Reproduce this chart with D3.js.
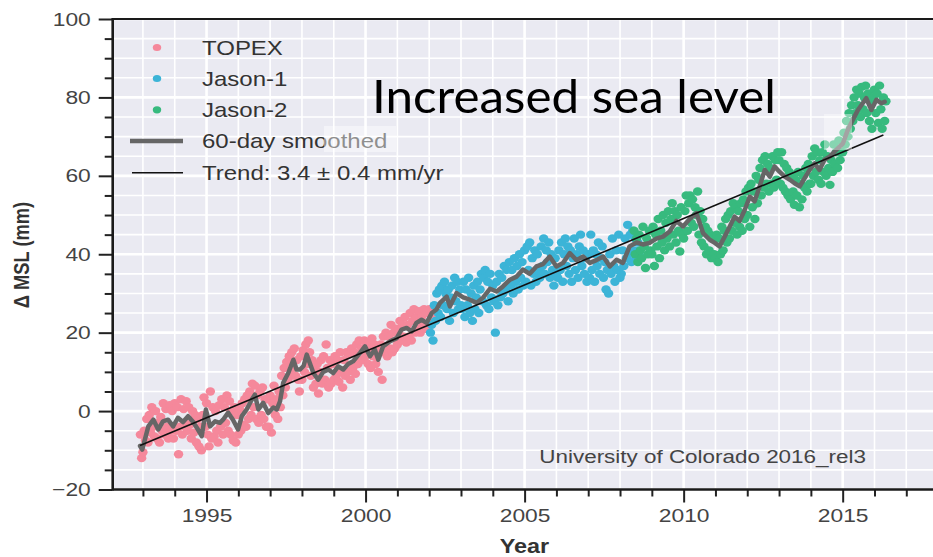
<!DOCTYPE html>
<html><head><meta charset="utf-8">
<script src="https://cdn.jsdelivr.net/npm/d3@7"></script>
<style>body{margin:0;background:#fff;} svg{display:block;}</style>
</head><body>
<svg id="chart" width="933" height="557"></svg>
<script>
// ---------- data ----------
const sampleStep = 0.04;
const topexStart = 1992.92, jason1Start = 2002.04, jason2Start = 2008.44;
const topexValues = [
 -6,-12,-10.5,-5,-7.5,-2,-8,-1,-5.5,1,-4,-6.5,0,-7,-3,-8,-1.5,-5,2,-6,0.5,-4,-7,1.5,-5,
 0,-7,2,-5,1,-11,-4,3,-6,0.5,-3,2.5,-5,1,-3.5,-7,0,-5.5,-1,-8,-2,-9,-4,-10,-1,
 3.5,-4,2,-6,-9,5,-7,1,-6.5,0,-5,-8,1.5,-4,3,-6,1,-3,4,-5,2.5,-6,0,-7.5,1,
 -8,-1,-6,0.5,-5,2,-3.5,3,-4,4,-2,5,-1,7,1,6.5,-2,4,-3,5,-1,6,-2,3,-4,
 3,-4,4,-5.5,2,6.5,-1,3,-2,5,1,9,4,11,6,12.5,8,14,9,15,11,16,9,13,8,
 5,14,8,15.5,10,17,12,18,15,9,13,6,11,7,12,4.5,10,13,7,14,8,17,11,6,13,
 7,12,8,14,9,13,7.5,15,10,6,13,9,15,10,14.5,8,16,11,15,9.5,17,12,18,13,16,
 13,18,14,17,12,16,11,18.5,14,17,12,16,10,15,17,8,19,15,20,14,19,16,22,15,20,
 16,21,17,20,23,18,22,19,24,17.5,22,19,25,18,23,26,20,24,21,25.5,20,24,22,26,21,
 25,21,26,23,24.5
];
const jason1Values = [
 20,22,18,27,23,30,25,31,24,32,27,33,30,26,31,23,29,32,25,34,28,33,26,31,27,
 26,33,24,31,27,34,25,30,23,32,26,29,33,25,31,35,28,34,36,27,33,26,35,29,32,
 28,20,33,27,35,29,34,30,37,31,36,28,38,32,36,30,39,33,37,31,40,34,38,32,41,
 33,42,36,43,32,39,35,41,33,40,36,34,42,37,44,35,41,38,43,34,40,36,32,39,35,
 34,41,36,43,33,40,44,37,42,35,41,33,39,44,36,40,34,42,45,37,41,35,39,33,40,
 34,45,36,41,33,40,37,43,35,39,42,34,38,31,36,30,40,35,44,37,33,41,36,45,34,
 35,41,37,44,39,47.5,40,45,38,46,41,44,39,43,40
];
const jason2Values = [
 46,40,44,38,45,41,39,47,42,36.5,44,40,46,41,
 40,47,37,45,42,49,39,46,43,50,41,48,44,51,42,49,53,45,51,43,50,46,40.7,52,45,
 44,51,55,46,53,55,48,54,47,52,50,56,45,51,43,49,42,47,40,46,41,45,39,44,40,
 39,45,38,44,40,47,41,46,49,43,50,44,51,46,53,48,52,45,51,47,53,46,54,49,56,
 50,57,47,58,52,56,49,60,53,59,62,55,64,57,65,58,63,56,62,58,65,57,64,59,66,
 64,58,66,57,63,56,62,55,61,54,60,56,52.6,59,55,61,52,58,54,60,57,62,56,63,58,
 58,65,60,67,61,66,59,64,58,66,61,68,60,65,62,57.7,64,61,68,63,66,62,69,64,66,
 66,71,68,74,70,76,72,78,74,80,76,82,78,81,75,82.7,77,80,83,76,81,74,79,72,80,
 82,76,81,73.5,83,77,72,80,74,79
];
const smoothYears = [1992.91,1992.98,1993.17,1993.33,1993.48,1993.63,1993.79,1993.95,1994.10,1994.26,1994.42,1994.58,1994.73,1994.85,1994.98,1995.11,1995.27,1995.42,1995.52,1995.68,1995.83,1995.99,1996.11,1996.26,1996.42,1996.52,1996.63,1996.78,1996.94,1997.10,1997.21,1997.31,1997.41,1997.57,1997.73,1997.83,1997.94,1998.05,1998.15,1998.36,1998.51,1998.67,1998.83,1998.98,1999.14,1999.30,1999.45,1999.61,1999.82,1999.98,2000.14,2000.29,2000.40,2000.55,2000.77,2000.98,2001.13,2001.29,2001.45,2001.60,2001.76,2001.92,2002.08,2002.23,2002.34,2002.55,2002.65,2002.86,2003.07,2003.28,2003.49,2003.70,2003.91,2004.12,2004.32,2004.54,2004.75,2004.95,2005.16,2005.37,2005.58,2005.79,2006.00,2006.21,2006.42,2006.63,2006.84,2007.05,2007.26,2007.47,2007.68,2007.89,2008.09,2008.30,2008.52,2008.72,2008.93,2009.14,2009.35,2009.56,2009.77,2009.98,2010.19,2010.40,2010.61,2010.82,2010.98,2011.13,2011.29,2011.45,2011.60,2011.76,2011.92,2012.08,2012.23,2012.39,2012.55,2012.71,2012.86,2013.02,2013.18,2013.34,2013.49,2013.65,2013.81,2013.96,2014.12,2014.27,2014.43,2014.59,2014.80,2015.01,2015.16,2015.32,2015.48,2015.63,2015.74,2015.90,2016.06,2016.21,2016.32];
const smoothValues = [-8.9,-9.8,-3.9,-2.2,-4.7,-2.6,-2.2,-3.9,-1.7,-2.8,-1.3,-2.8,-4.7,-6.4,0.4,-3.9,-2.6,-3.0,-2.2,-0.4,-2.2,-4.7,-1.3,0.4,2.9,4.2,0.4,2.1,-0.5,0.9,0.4,2.5,7.2,9.7,13.1,10.6,10.6,11.5,14.4,9.7,8.0,10.0,10.6,9.7,11.4,10.6,12.0,12.7,14.8,16.5,14.0,15.7,13.1,16.5,17.8,18.6,20.8,21.2,20.3,22.5,23.3,22.5,25.0,25.9,27.6,29.2,26.7,30.1,29.0,28.4,27.6,29.0,31.2,30.5,31.8,33.5,34.3,36.1,35.0,36.9,37.5,39.4,36.9,37.8,40.3,38.5,39.4,37.8,38.5,39.4,36.9,38.6,37.8,42.0,43.0,42.5,42.9,44.0,44.5,45.8,48.5,47.1,49.0,50.5,45.4,43.7,42.9,42.0,44.5,47.1,49.6,48.5,51.3,54.7,53.5,57.3,61.5,59.8,62.4,61.0,59.8,59.0,58.1,57.3,59.5,61.5,63.2,61.5,64.1,64.9,66.6,68.3,71.7,74.3,76.8,78.5,79.8,76.8,79.4,78.5,78.9];
const trendYears = [1992.91, 2016.28];
const trendValues = [-8.8, 70.4];
const xMajorTicks = [1995, 2000, 2005, 2010, 2015];
const xMinorTicks = [1993,1994,1996,1997,1998,1999,2001,2002,2003,2004,2006,2007,2008,2009,2011,2012,2013,2014,2016,2017];
const yMajorTicks = [-20, 0, 20, 40, 60, 80, 100];
const yMinorTicks = [-15,-10,-5,5,10,15,25,30,35,45,50,55,65,70,75,85,90,95];
const seriesNames = ["TOPEX", "Jason-1", "Jason-2"];
const lineLegend = ["60-day smoothed", "Trend: 3.4 \u00b1 0.4 mm/yr"];
const title = "Increased sea level";
const credit = "University of Colorado 2016_rel3";
const xLabel = "Year", yLabel = "\u0394 MSL (mm)";

// ---------- drawing ----------
const colors = ["#f5889b", "#3cb4d7", "#37ba7e"];
const svg = d3.select("#chart");
const L = 112.7, R = 938.1, T = 19, B = 489.5;
const x = d3.scaleLinear().domain([1992.05, 2018]).range([L, R]);
const y = d3.scaleLinear().domain([-20, 100]).range([B, T]);
const SX = 1.2; // horizontal stretch of original image text
const font = "'Liberation Sans', Arial, sans-serif";

svg.append("rect").attr("x", L).attr("y", T).attr("width", R - L).attr("height", B - T).attr("fill", "#eaeaf2");

const grid = svg.append("g");
grid.selectAll(".vmin").data(xMinorTicks.concat([2018])).join("line")
  .attr("x1", d => x(d)).attr("x2", d => x(d)).attr("y1", T).attr("y2", B)
  .attr("stroke", "#fff").attr("stroke-width", 1.6);
grid.selectAll(".vmaj").data(xMajorTicks).join("line")
  .attr("x1", d => x(d)).attr("x2", d => x(d)).attr("y1", T).attr("y2", B)
  .attr("stroke", "#fff").attr("stroke-width", 2.6);
grid.selectAll(".hmin").data(yMinorTicks).join("line")
  .attr("y1", d => y(d)).attr("y2", d => y(d)).attr("x1", L).attr("x2", R)
  .attr("stroke", "#fff").attr("stroke-width", 1.6);
grid.selectAll(".hmaj").data(yMajorTicks).join("line")
  .attr("y1", d => y(d)).attr("y2", d => y(d)).attr("x1", L).attr("x2", R)
  .attr("stroke", "#fff").attr("stroke-width", 2.6);

const series = [
  {start: topexStart, values: topexValues},
  {start: jason1Start, values: jason1Values},
  {start: jason2Start, values: jason2Values}
];
series.forEach((s, k) => {
  svg.append("g").selectAll("ellipse")
    .data(s.values.map((v, i) => ({t: s.start + i * sampleStep, v})))
    .join("ellipse")
    .attr("cx", d => x(d.t)).attr("cy", d => y(d.v)).attr("rx", 4.7).attr("ry", 4.2)
    .attr("fill", colors[k]);
});

const line = d3.line().x(d => x(d[0])).y(d => y(d[1]));
svg.append("path").datum(smoothYears.map((t, i) => [t, smoothValues[i]]))
  .attr("d", line).attr("fill", "none").attr("stroke", "#666").attr("stroke-width", 4.5)
  .attr("stroke-linejoin", "round").attr("stroke-linecap", "round");
svg.append("path").datum(trendYears.map((t, i) => [t, trendValues[i]]))
  .attr("d", line).attr("fill", "none").attr("stroke", "#111").attr("stroke-width", 1.6);

// axes
function styleAxis(g) {
  g.select(".domain").remove();
  g.selectAll(".tick line").attr("stroke", "#222").attr("stroke-width", 2);
  g.selectAll(".tick text").attr("fill", "#444").style("font-family", font).style("font-size", "19px")
    .attr("transform", `scale(${SX},1)`);
}
svg.append("g").attr("transform", `translate(0,${B})`)
  .call(d3.axisBottom(x).tickValues(xMajorTicks).tickSize(13).tickPadding(5.8).tickFormat(d3.format("d")))
  .call(styleAxis);
svg.append("g").attr("transform", `translate(0,${B})`)
  .call(d3.axisBottom(x).tickValues(xMinorTicks).tickSize(7).tickFormat(""))
  .call(styleAxis);
svg.append("g").attr("transform", `translate(${L},0)`)
  .call(d3.axisLeft(y).tickValues(yMajorTicks).tickSize(14).tickPadding(4.3))
  .call(styleAxis);
svg.append("g").attr("transform", `translate(${L},0)`)
  .call(d3.axisLeft(y).tickValues(yMinorTicks).tickSize(8).tickFormat(""))
  .call(styleAxis);
// spines
svg.append("line").attr("x1", L).attr("x2", L).attr("y1", T - 1).attr("y2", B + 1).attr("stroke", "#1a1a1a").attr("stroke-width", 2.6);
svg.append("line").attr("x1", L).attr("x2", R).attr("y1", B).attr("y2", B).attr("stroke", "#1a1a1a").attr("stroke-width", 2.6);
svg.append("line").attr("x1", L).attr("x2", R).attr("y1", T).attr("y2", T).attr("stroke", "#1a1a1a").attr("stroke-width", 2);

function txt(px, py, s, size, opts = {}) {
  return svg.append("text")
    .attr("transform", `translate(${px},${py}) scale(${SX},1)` + (opts.rot ? " rotate(-90)" : ""))
    .attr("text-anchor", opts.anchor || "start")
    .style("font-family", font).style("font-size", size + "px")
    .style("font-weight", opts.bold ? "bold" : "normal")
    .attr("fill", opts.fill || "#333").text(s);
}

// legend
const legendY = [55, 86, 117.3, 148.3, 180];
seriesNames.forEach((n, k) => {
  svg.append("ellipse").attr("cx", 157).attr("cy", legendY[k] - 7.5).attr("rx", 4.2).attr("ry", 3.6).attr("fill", colors[k]);
  txt(202, legendY[k], n, 20);
});
svg.append("line").attr("x1", 130).attr("x2", 183).attr("y1", 141).attr("y2", 141).attr("stroke", "#666").attr("stroke-width", 4.5);
txt(202, legendY[3], lineLegend[0], 20);
svg.append("line").attr("x1", 132).attr("x2", 183).attr("y1", 172.7).attr("y2", 172.7).attr("stroke", "#111").attr("stroke-width", 1.6);
txt(202, legendY[4], lineLegend[1], 20);

txt(539.3, 463.3, credit, 18.7, {fill: "#444"});
txt(29, 255, yLabel, 18.3, {bold: true, rot: true, anchor: "middle", fill: "#333"});
txt(524.5, 553, xLabel, 19.5, {bold: true, anchor: "middle", fill: "#333"});

// faded patches seen in the slide
svg.append("rect").attr("x", 324).attr("y", 126).attr("width", 72).attr("height", 26).attr("fill", "#fff").attr("opacity", 0.45);
svg.append("rect").attr("x", 824).attr("y", 114).attr("width", 28).attr("height", 36).attr("fill", "#fff").attr("opacity", 0.4);

// title
svg.append("text").attr("x", 372).attr("y", 113)
  .attr("textLength", 404).attr("lengthAdjust", "spacingAndGlyphs")
  .style("font-family", "Lato, 'Open Sans', sans-serif").style("font-size", "47px")
  .attr("fill", "#000").text(title);
</script>
</body></html>
